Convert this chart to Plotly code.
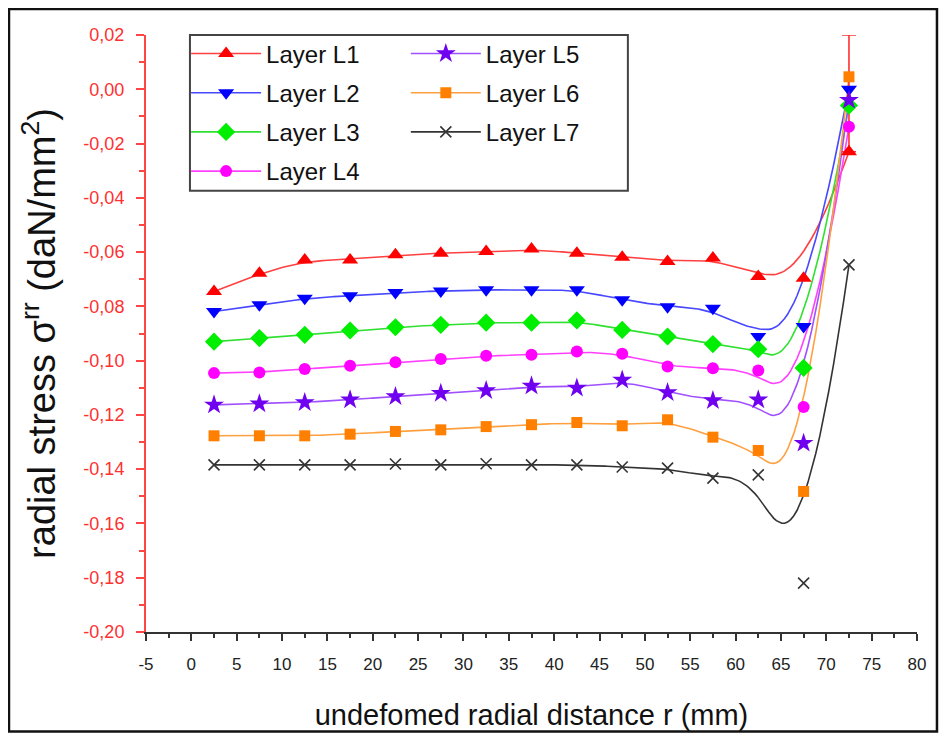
import numpy as np
import plotly.graph_objects as go

# radial positions of the sample points (mm)
r_mm = [2.5, 7.5, 12.5, 17.5, 22.5, 27.5, 32.5, 37.5, 42.5, 47.5, 52.5, 57.5, 62.5, 67.5, 72.5]

# radial stress per layer (daN/mm2)
layer_l1 = [-0.0745, -0.0678, -0.0629, -0.0629, -0.0610, -0.0604, -0.0598, -0.0589,
            -0.0604, -0.0619, -0.0635, -0.0622, -0.0690, -0.0696, -0.0230]
layer_l2 = [-0.0819, -0.0794, -0.0770, -0.0761, -0.0749, -0.0743, -0.0739, -0.0739,
            -0.0739, -0.0776, -0.0801, -0.0807, -0.0911, -0.0874, 0.0000]
layer_l3 = [-0.0930, -0.0917, -0.0905, -0.0889, -0.0877, -0.0868, -0.0860, -0.0860,
            -0.0852, -0.0887, -0.0911, -0.0939, -0.0958, -0.1027, -0.0060]
layer_l4 = [-0.1046, -0.1044, -0.1031, -0.1019, -0.1006, -0.0994, -0.0982, -0.0978,
            -0.0966, -0.0975, -0.1022, -0.1028, -0.1036, -0.1171, -0.0138]
layer_l5 = [-0.1163, -0.1159, -0.1154, -0.1144, -0.1132, -0.1120, -0.1110, -0.1093,
            -0.1101, -0.1071, -0.1117, -0.1147, -0.1144, -0.1304, -0.0040]
layer_l6 = [-0.1277, -0.1277, -0.1277, -0.1271, -0.1261, -0.1255, -0.1243, -0.1236,
            -0.1228, -0.1240, -0.1218, -0.1282, -0.1331, -0.1482, 0.0046]
layer_l7 = [-0.1384, -0.1384, -0.1384, -0.1384, -0.1381, -0.1384, -0.1380, -0.1384,
            -0.1384, -0.1392, -0.1396, -0.1433, -0.1421, -0.1820, -0.0647]

layer_names = ["Layer L1", "Layer L2", "Layer L3", "Layer L4", "Layer L5", "Layer L6", "Layer L7"]

# upper error on the last L1 point
l1_err_plus = [0.043]

x_tickvals = [-5, 0, 5, 10, 15, 20, 25, 30, 35, 40, 45, 50, 55, 60, 65, 70, 75, 80]
x_ticktext = ["-5", "0", "5", "10", "15", "20", "25", "30", "35", "40", "45",
              "50", "55", "60", "65", "70", "75", "80"]
y_tickvals = [0.02, 0.0, -0.02, -0.04, -0.06, -0.08, -0.10, -0.12, -0.14, -0.16, -0.18, -0.20]
y_ticktext = ["0,02", "0,00", "-0,02", "-0,04", "-0,06", "-0,08", "-0,10",
              "-0,12", "-0,14", "-0,16", "-0,18", "-0,20"]

FONT = "Liberation Sans, Arial, sans-serif"


def bspline(xs, ys, n_out=300, k=3):
    """Clamped uniform B-spline with the points as control polygon (Origin style)."""
    ctrl = np.column_stack([xs, ys]).astype(float)
    n = len(ctrl)
    knots = np.concatenate([np.zeros(k), np.arange(n - k + 1), np.full(k, n - k)]).astype(float)
    out = []
    for u in np.linspace(0, n - k, n_out):
        j = min(np.searchsorted(knots, u, side="right") - 1, n - 1)
        d = [ctrl[j - k + r].copy() for r in range(k + 1)]
        for r in range(1, k + 1):
            for i in range(k, r - 1, -1):
                lo = knots[i + j - k]
                hi = knots[i + 1 + j - r]
                a = (u - lo) / (hi - lo)
                d[i] = (1 - a) * d[i - 1] + a * d[i]
        out.append(d[k])
    out = np.array(out)
    return out[:, 0], out[:, 1]


layers = [layer_l1, layer_l2, layer_l3, layer_l4, layer_l5, layer_l6, layer_l7]
styles = [
    # line colour, marker colour, symbol, size, legend
    ("#ff4040", "#ff0000", "triangle-up", 14, "legend"),
    ("#4848ff", "#0000ff", "triangle-down", 14, "legend"),
    ("#30e030", "#00ee00", "diamond", 14, "legend"),
    ("#ff40ff", "#ff00ff", "circle", 12, "legend"),
    ("#a050ff", "#7000f0", "star", 15, "legend2"),
    ("#ffa040", "#ff8000", "square", 11, "legend2"),
    ("#333333", "#333333", "x-thin-open", 11, "legend2"),
]

fig = go.Figure()

# smoothed connecting curves
for vals, (lc, mc, sym, sz, lg) in zip(layers, styles):
    cx, cy = bspline(r_mm, vals)
    fig.add_trace(go.Scatter(x=cx, y=cy, mode="lines", line=dict(color=lc, width=1.6),
                             showlegend=False, hoverinfo="skip"))

# error bar on the last L1 point
fig.add_trace(go.Scatter(
    x=r_mm[-1:], y=layer_l1[-1:], mode="markers", marker=dict(size=1, opacity=0),
    error_y=dict(type="data", array=l1_err_plus, arrayminus=[0], color="#ff3030",
                 thickness=1.6, width=7),
    showlegend=False,
))

# markers
for vals, (lc, mc, sym, sz, lg) in zip(layers, styles):
    mk = dict(symbol=sym, size=sz, color=mc)
    if sym == "x-thin-open":
        mk["line"] = dict(color=mc, width=1.6)
    fig.add_trace(go.Scatter(x=r_mm, y=vals, mode="markers", marker=mk, showlegend=False))

# legend entries
for name, (lc, mc, sym, sz, lg) in zip(layer_names, styles):
    mk = dict(symbol=sym, size=sz, color=mc)
    if sym == "x-thin-open":
        mk["line"] = dict(color=mc, width=1.6)
    fig.add_trace(go.Scatter(
        x=[None], y=[None], mode="lines+markers", name=name, legend=lg,
        legendgroup=name, line=dict(color=lc, width=1.6), marker=mk,
    ))

legend_style = dict(
    font=dict(family=FONT, size=24, color="#111111"),
    bgcolor="rgba(0,0,0,0)", borderwidth=0, orientation="v",
    traceorder="grouped", tracegroupgap=5, itemwidth=70,
    xanchor="left", yanchor="top",
)

fig.update_layout(
    width=931, height=725,
    margin=dict(l=138, r=22, t=27, b=101),
    paper_bgcolor="white", plot_bgcolor="white",
    font=dict(family=FONT, color="#111111"),
    legend=dict(x=0.052, y=1.006, **legend_style),
    legend2=dict(x=0.337, y=1.006, **legend_style),
    shapes=[
        # legend frame
        dict(type="rect", xref="paper", yref="paper", x0=0.057, x1=0.625, y0=0.739, y1=1.0,
             line=dict(color="#444444", width=2), fillcolor="rgba(0,0,0,0)", layer="below"),
        # outer picture frame
        dict(type="rect", xref="paper", yref="paper", x0=-0.1777, x1=1.0259, y0=-0.1667, y1=1.0436,
             line=dict(color="#111111", width=2.5), fillcolor="rgba(0,0,0,0)"),
    ],
)

fig.update_xaxes(
    range=[-5, 80], tickmode="array", tickvals=x_tickvals, ticktext=x_ticktext,
    showgrid=False, zeroline=False, showline=True, linecolor="#333333", linewidth=1.5,
    ticks="outside", ticklen=7, tickwidth=1.5, tickcolor="#333333",
    minor=dict(ticks="outside", ticklen=4, tickwidth=1.5, tickcolor="#333333", dtick=2.5, tick0=-5),
    tickfont=dict(family=FONT, size=17, color="#222222"),
    ticklabelstandoff=9, automargin=False,
    title=dict(text="undefomed radial distance r (mm)", font=dict(family=FONT, size=29, color="#111111"),
               standoff=32),
)

fig.update_yaxes(
    range=[-0.20, 0.02], tickmode="array", tickvals=y_tickvals, ticktext=y_ticktext,
    showgrid=False, zeroline=False, showline=True, linecolor="#ff4646", linewidth=2,
    ticks="outside", ticklen=8, tickwidth=2, tickcolor="#ff4646",
    minor=dict(ticks="outside", ticklen=5, tickwidth=2, tickcolor="#ff4646", dtick=0.01, tick0=0),
    tickfont=dict(family=FONT, size=18, color="#ff3030"),
    ticklabelstandoff=8, automargin=False,
    title=dict(text="radial stress σ<sup>rr</sup> (daN/mm<sup>2</sup>)",
               font=dict(family=FONT, size=38, color="#111111"), standoff=16),
)

fig.write_html("out.html")
